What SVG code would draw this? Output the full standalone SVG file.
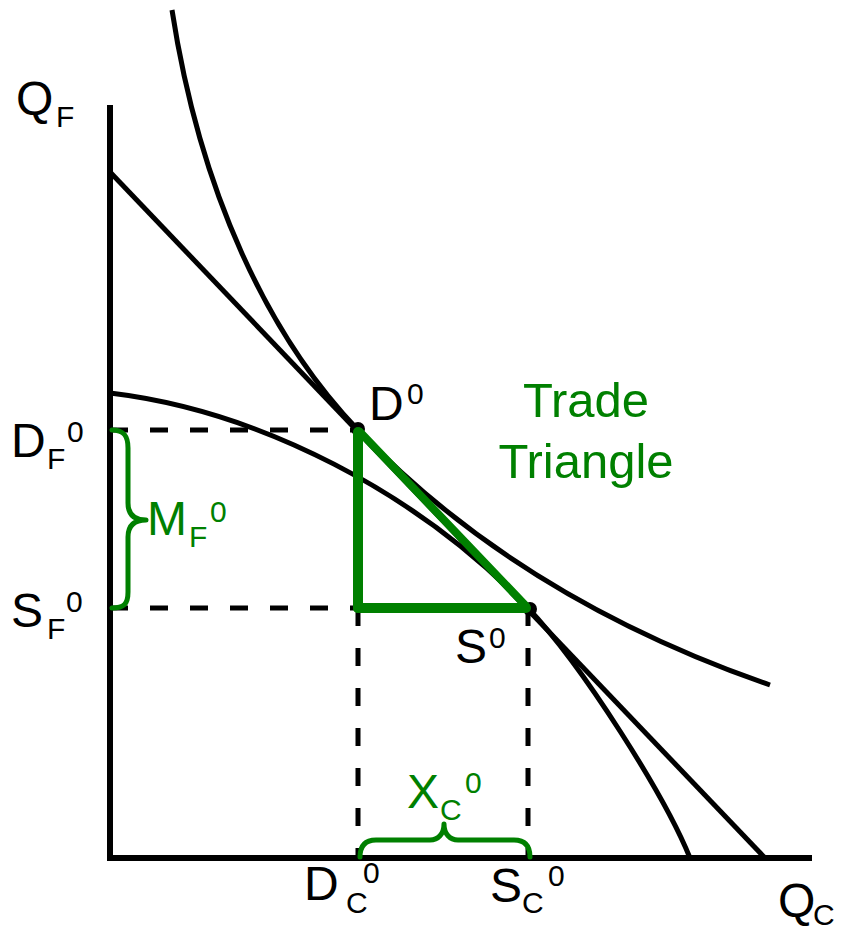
<svg xmlns="http://www.w3.org/2000/svg" width="842" height="930" viewBox="0 0 842 930">
<style>
.ax{stroke:#000;stroke-width:6;fill:none}
.cv{stroke:#000;stroke-width:5;fill:none}
.dash{stroke:#000;stroke-width:5;fill:none;stroke-dasharray:18 22}
.gr{stroke:#008000;fill:none;stroke-linecap:round}
.br{stroke:#008000;stroke-width:5;fill:none;stroke-linecap:round;stroke-linejoin:round}
text{font-family:"Liberation Sans",Arial,sans-serif}
.m{font-size:48px;fill:#000}
.g{font-size:48px;fill:#008000}
.s{font-size:30px}
</style>
<g id="axes">
<line class="ax" x1="110" y1="105" x2="110" y2="861"/>
<line class="ax" x1="107" y1="858" x2="812" y2="858"/>
</g>
<g id="connectors">
<line class="dash" x1="110" y1="430" x2="358" y2="430"/>
<line class="dash" x1="110" y1="608" x2="528" y2="608"/>
<line class="dash" x1="358" y1="608" x2="358" y2="858"/>
<line class="dash" x1="528" y1="608" x2="528" y2="858"/>
</g>
<g id="budget-line"><line class="cv" x1="110" y1="172" x2="765" y2="858"/></g>
<g id="indifference-curve"><path class="cv" d="M172,10 C200,192 268,336 358,430 C488,566 640,640 770,685"/></g>
<g id="ppf"><path class="cv" d="M110,393 C260,411 418,493 528,608 C583,666 665,796 690,858"/></g>
<g id="points">
<circle cx="358" cy="429" r="7" fill="#000"/>
<circle cx="530" cy="609" r="7" fill="#000"/>
</g>
<g id="trade-triangle">
<line class="gr" stroke-width="10" x1="358" y1="432" x2="358" y2="608"/>
<line class="gr" stroke-width="10" x1="358" y1="608" x2="526" y2="608"/>
<line class="gr" stroke-width="8" x1="360" y1="432" x2="526" y2="606"/>
</g>
<g id="brace-MF"><path class="br" d="M112,430 C124,430 128,436 128,448 L128,503 C128,514 134,520 146,520 C134,520 128,526 128,537 L128,592 C128,604 124,608 112,608"/></g>
<g id="brace-XC"><path class="br" d="M360,857 C360,845 366,840 376,840 L430,840 C438,840 444,834 444,824 C444,834 450,840 458,840 L514,840 C524,840 530,845 530,857"/></g>
<g id="labels">
<text class="m"><tspan x="16" y="115">Q</tspan><tspan class="s" x="56" y="127">F</tspan></text>
<text class="m"><tspan x="11" y="457">D</tspan><tspan class="s" x="47" y="469">F</tspan><tspan class="s" x="67" y="442">0</tspan></text>
<text class="m"><tspan x="11" y="627">S</tspan><tspan class="s" x="47" y="639">F</tspan><tspan class="s" x="66" y="612">0</tspan></text>
<text class="g"><tspan x="147" y="535">M</tspan><tspan class="s" x="189" y="547">F</tspan><tspan class="s" x="210" y="522">0</tspan></text>
<text class="m"><tspan x="369" y="420">D</tspan><tspan class="s" x="407" y="404">0</tspan></text>
<text class="m"><tspan x="455" y="663">S</tspan><tspan class="s" x="489" y="648">0</tspan></text>
<text class="g" style="font-size:49px" text-anchor="middle"><tspan x="586" y="417">Trade</tspan><tspan x="586" y="478">Triangle</tspan></text>
<text class="g"><tspan x="407" y="808">X</tspan><tspan class="s" x="440" y="820">C</tspan><tspan class="s" x="465" y="793">0</tspan></text>
<text class="m"><tspan x="304" y="900">D</tspan><tspan class="s" x="346" y="913">C</tspan><tspan class="s" x="363" y="883">0</tspan></text>
<text class="m"><tspan x="490" y="902">S</tspan><tspan class="s" x="522" y="913">C</tspan><tspan class="s" x="548" y="886">0</tspan></text>
<text class="m"><tspan x="778" y="917">Q</tspan><tspan class="s" x="813" y="925">C</tspan></text>
</g>
</svg>
